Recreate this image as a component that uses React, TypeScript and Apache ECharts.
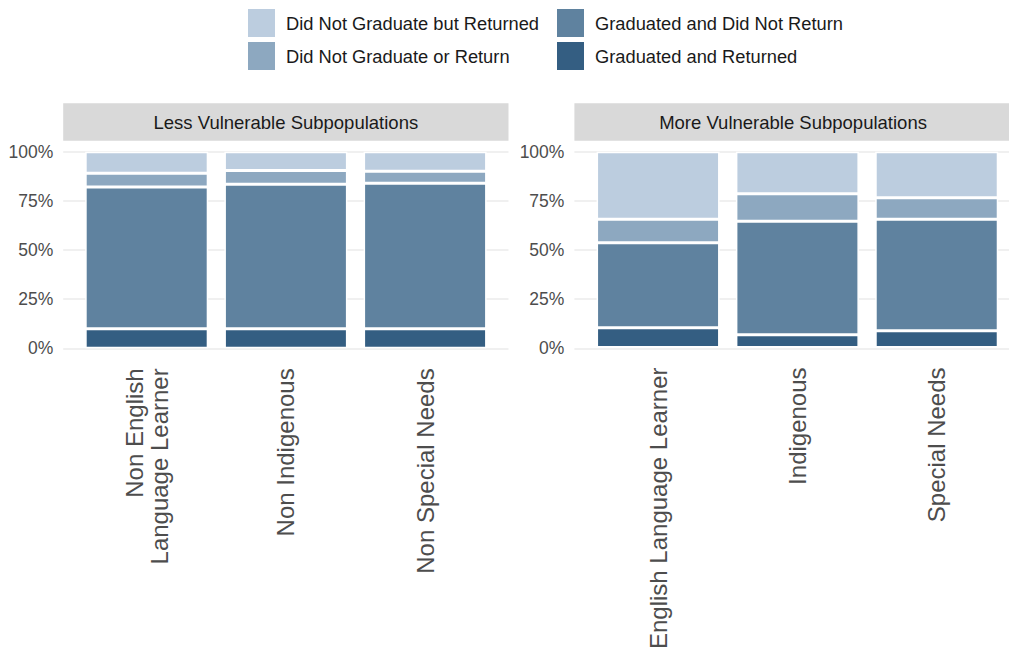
import React, { useEffect, useRef } from "react";
import * as echarts from "echarts";

const seriesNames = [
  "Did Not Graduate but Returned",
  "Did Not Graduate or Return",
  "Graduated and Did Not Return",
  "Graduated and Returned",
];
const seriesColors = ["#BCCDDF", "#8DA8C0", "#5F829F", "#345E82"];

const panelTitles = ["Less Vulnerable Subpopulations", "More Vulnerable Subpopulations"];

const categoriesLess = ["Non English\nLanguage Learner", "Non Indigenous", "Non Special Needs"];
const categoriesMore = ["English Language Learner", "Indigenous", "Special Needs"];

// values in percent, stacked bottom to top
const gradReturnedLess = [10, 10, 10];
const gradNotReturnLess = [72, 73.5, 74];
const notGradNotReturnLess = [7, 7, 6];
const notGradReturnedLess = [11, 9.5, 10];

const gradReturnedMore = [10, 6.5, 8.5];
const gradNotReturnMore = [43.5, 58, 57];
const notGradNotReturnMore = [12, 14, 11];
const notGradReturnedMore = [34.5, 21.5, 23.5];

const yTicks = [0, 25, 50, 75, 100];

const FONT = "'Liberation Sans', Arial, sans-serif";

export default function App() {
  const ref = useRef<HTMLDivElement>(null);

  useEffect(() => {
    document.body.style.margin = "0";
    if (!ref.current) return;
    const chart = echarts.init(ref.current, undefined, { renderer: "svg" });

    const top = 151.7;
    const height = 196.6;
    const panels = [
      { bgLeft: 63.2, bgWidth: 445.3, barLeft: 77.1, barWidth: 417.6 },
      { bgLeft: 574.4, bgWidth: 445.3, barLeft: 588.4, barWidth: 418 },
    ];

    const lessData = [gradReturnedLess, gradNotReturnLess, notGradNotReturnLess, notGradReturnedLess];
    const moreData = [gradReturnedMore, gradNotReturnMore, notGradNotReturnMore, notGradReturnedMore];
    // stacking order bottom->top: names index 3,2,1,0
    const stackOrder = [3, 2, 1, 0];

    const grids: any[] = [];
    const xAxes: any[] = [];
    const yAxes: any[] = [];
    const series: any[] = [];

    panels.forEach((p, pi) => {
      const bgIdx = pi * 2;
      const barIdx = pi * 2 + 1;
      grids.push({ left: p.bgLeft, top, width: p.bgWidth, height });
      grids.push({ left: p.barLeft, top, width: p.barWidth, height });
      xAxes.push({ gridIndex: bgIdx, type: "value", min: 0, max: 1, show: false });
      xAxes.push({
        gridIndex: barIdx,
        type: "category",
        data: pi === 0 ? categoriesLess : categoriesMore,
        axisLine: { show: false },
        axisTick: { show: false },
        axisLabel: {
          interval: 0,
          rotate: 90,
          margin: 20,
          fontSize: 24,
          lineHeight: 25,
          color: "#4D4D4D",
          fontFamily: FONT,
        },
      });
      yAxes.push({
        gridIndex: bgIdx,
        type: "value",
        min: yTicks[0],
        max: yTicks[yTicks.length - 1],
        interval: 25,
        axisLine: { show: false },
        axisTick: { show: false },
        axisLabel: {
          formatter: "{value}%",
          fontSize: 17.5,
          color: "#4D4D4D",
          margin: 10,
          fontFamily: FONT,
          padding: [5, 0, 0, 0],
        },
        splitLine: { lineStyle: { color: "#EBEBEB", width: 1.5 } },
      });
      yAxes.push({ gridIndex: barIdx, type: "value", min: 0, max: 100, show: false });

      const data = pi === 0 ? lessData : moreData;
      stackOrder.forEach((ni, k) => {
        series.push({
          name: seriesNames[ni],
          type: "bar",
          xAxisIndex: barIdx,
          yAxisIndex: barIdx,
          stack: "panel" + pi,
          barWidth: 123,
          data: data[k],
          itemStyle: { color: seriesColors[ni], borderColor: "#ffffff", borderWidth: 1.5 },
        });
      });
    });

    const legendCommon = {
      orient: "vertical",
      top: 9,
      padding: 0,
      itemWidth: 27,
      itemHeight: 28,
      itemGap: 5,
      icon: "rect",
      itemStyle: { borderWidth: 0 },
      textStyle: { fontSize: 18.3, color: "#1A1A1A", fontFamily: FONT, padding: [0, 0, 0, 6] },
    };

    const graphic: any[] = [];
    panels.forEach((p, pi) => {
      graphic.push({
        type: "rect",
        shape: { x: p.bgLeft, y: 103.3, width: p.bgWidth, height: 37.4 },
        style: { fill: "#D9D9D9" },
        silent: true,
      });
      const cx = p.bgLeft + p.bgWidth / 2 - (pi === 1 ? 4 : 0);
      graphic.push({
        type: "text",
        x: cx,
        y: 122.5,
        style: {
          text: panelTitles[pi],
          fontSize: 18.5,
          fill: "#1A1A1A",
          fontFamily: FONT,
          align: "center",
          verticalAlign: "middle",
        },
        silent: true,
      });
    });

    chart.setOption({
      animation: false,
      backgroundColor: "#ffffff",
      legend: [
        { ...legendCommon, left: 248, data: [seriesNames[0], seriesNames[1]] },
        { ...legendCommon, left: 557, data: [seriesNames[2], seriesNames[3]] },
      ],
      grid: grids,
      xAxis: xAxes,
      yAxis: yAxes,
      series,
      graphic,
    });

    return () => chart.dispose();
  }, []);

  return <div ref={ref} style={{ width: 1009, height: 652 }} />;
}
